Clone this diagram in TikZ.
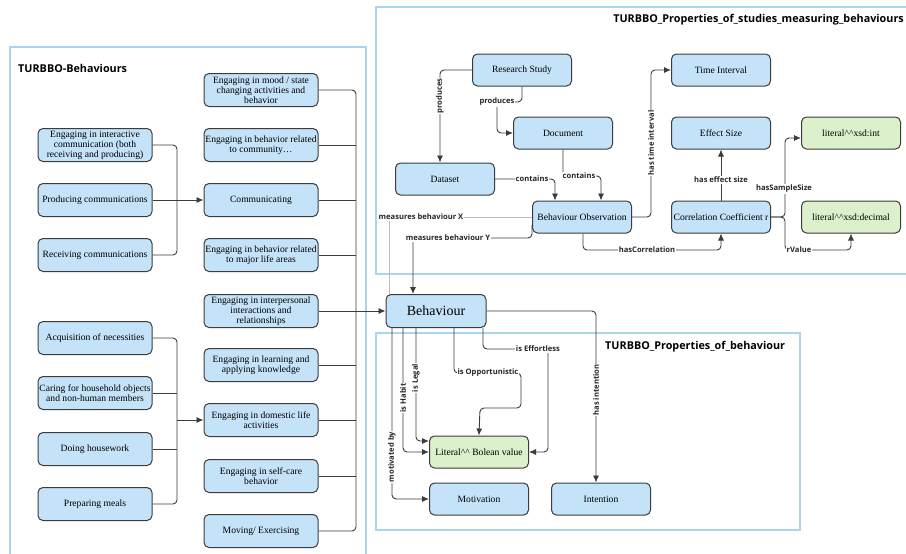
\documentclass[tikz,border=0pt]{standalone}
\usepackage{fontspec}
\setmainfont{Liberation Serif}
\newfontfamily\lblfont{Open Sans}
\usetikzlibrary{arrows.meta}
\definecolor{nodeblue}{HTML}{C4E2F8}
\definecolor{nodegreen}{HTML}{DCF0CB}
\definecolor{panelblue}{HTML}{A9D4F2}
\definecolor{edgec}{HTML}{3C3C3C}
\definecolor{lightln}{HTML}{BDBDBD}
\begin{document}
\begin{tikzpicture}[x=1pt,y=-1pt,
 box/.style={draw=edgec, line width=1pt, rounded corners=5pt, fill=nodeblue, minimum width=99pt, minimum height=32pt, align=center, inner xsep=1pt, inner ysep=1pt, font=\fontsize{9.6}{10}\selectfont},
 wbox/.style={box, minimum width=114pt, minimum height=33pt},
 gbox/.style={box, fill=nodegreen},
 ln/.style={draw=edgec, line width=0.9pt, rounded corners=4pt},
 arr/.style={ln, -{Latex[length=7pt,width=6pt]}},
 thin/.style={draw=lightln, line width=0.7pt},
 lbl/.style={fill=white, inner sep=1pt, font=\lblfont\bfseries\fontsize{7.6}{8}\selectfont, text=black!85},
 panel/.style={draw=panelblue, line width=1.6pt},
 ttl/.style={font=\lblfont\bfseries\fontsize{10.8}{12}\selectfont, anchor=west, inner sep=0pt}
]
\useasboundingbox (0,0) rectangle (906,554);
\fill[white] (0,0) rectangle (906,554);
\clip (0,0) rectangle (906,554);

% panels
\draw[panel] (10,47) rectangle (366,580);
\draw[panel] (376,7) rectangle (930,274);
\draw[panel] (376,333) rectangle (800,530);
\node[ttl] (t1) at (18,68) {TURBBO-Behaviours};
\node[ttl, anchor=east] (t2) at (904,20) {TURBBO\_Properties\_of\_studies\_measuring\_behaviours};
\node[ttl] (t3) at (605,347) {TURBBO\_Properties\_of\_behaviour};

% left column 1
\node[wbox] (ic) at (95,145) {Engaging in interactive\\communication (both\\receiving and producing)};
\node[wbox] (pc) at (95,200) {Producing communications};
\node[wbox] (rc) at (95,255) {Receiving communications};
\node[wbox] (acq) at (95,338) {Acquisition of necessities};
\node[wbox] (care) at (95,393) {Caring for household objects\\and non-human members};
\node[wbox] (house) at (95,449) {Doing housework};
\node[wbox] (meals) at (95,504) {Preparing meals};

% left column 2
\node[wbox] (mood) at (261,90) {Engaging in mood / state\\changing activities and\\behavior};
\node[wbox] (comty) at (261,145) {Engaging in behavior related\\to community…};
\node[wbox] (comm) at (261,200) {Communicating};
\node[wbox] (major) at (261,255) {Engaging in behavior related\\to major life areas};
\node[wbox] (inter) at (261,311) {Engaging in interpersonal\\interactions and\\relationships};
\node[wbox] (learn) at (261,365) {Engaging in learning and\\applying knowledge};
\node[wbox] (dom) at (261,420) {Engaging in domestic life\\activities};
\node[wbox] (self) at (261,476) {Engaging in self-care\\behavior};
\node[wbox] (move) at (261,531) {Moving/ Exercising};

% Behaviour
\node[box, minimum width=100pt, minimum height=33pt, font=\fontsize{14}{16}\selectfont] (beh) at (436,311) {Behaviour};

% top panel nodes
\node[box] (rs) at (522,70) {Research Study};
\node[box] (doc) at (563,133) {Document};
\node[box] (dat) at (445,179) {Dataset};
\node[box] (bo) at (582,217) {Behaviour Observation};
\node[box] (ti) at (721,70) {Time Interval};
\node[box] (es) at (721,133) {Effect Size};
\node[box] (cc) at (721,217) {Correlation Coefficient r};
\node[gbox] (lint) at (851,133) {literal\textasciicircum\textasciicircum xsd:int};
\node[gbox] (ldec) at (851,217) {literal\textasciicircum\textasciicircum xsd:decimal};

% bottom panel nodes
\node[gbox] (lit) at (479,452) {Literal\textasciicircum\textasciicircum\ Bolean value};
\node[box] (mot) at (479,499) {Motivation};
\node[box] (int) at (601,499) {Intention};

% left buses
\coordinate (b1) at (177,200);
\draw[ln] (ic.east) -| (b1);
\draw[ln] (rc.east) -| (b1);
\draw[arr] (pc.east) -- (comm.west);
\coordinate (b2) at (177,420);
\draw[ln] (acq.east) -| (b2);
\draw[ln] (meals.east) -| (b2);
\draw[ln] (care.east) -- (care.east -| b2);
\draw[ln] (house.east) -- (house.east -| b2);
\draw[arr] (b2) -- (dom.west);
\coordinate (b3) at (356,311);
\draw[ln] (mood.east) -| (b3);
\draw[ln] (move.east) -| (b3);
\foreach \n in {comty,comm,major,learn,dom,self}{\draw[ln] (\n.east) -- (\n.east -| b3);}
\draw[arr] (inter.east) -- (beh.west);

% top panel edges
\draw[arr] (rs.west) -| ([xshift=-5pt]dat.north);
\node[lbl, rotate=90] (lp1) at (440,96) {produces};
\draw[arr] (rs.south) |- (497,102) |- (doc.west);
\node[lbl] (lp2) at (497,102) {produces};
\draw[arr] (dat.east) -| ([xshift=-27pt]bo.north);
\node[lbl] (lc1) at (532,179) {contains};
\draw[arr] (doc.south) |- (601,176) -- ([xshift=19pt]bo.north);
\node[lbl] (lc2) at (579,176) {contains};
\draw[arr] (bo.east) -- (651,217) -- (651,70) -- (ti.west);
\node[lbl, rotate=90] (lti) at (651,143) {has time interval};
\draw[arr] (cc.north) -- (es.south);
\node[lbl] (les) at (721,180) {has effect size};
\draw[arr] ([xshift=1pt]bo.south) |- (721,250) -- (cc.south);
\node[lbl] (lhc) at (647,250) {hasCorrelation};
\draw[arr] (cc.east) -- (785,217) |- (lint.west |- 0,138);
\node[lbl] (lss) at (784,189) {hasSampleSize};
\draw[arr] (cc.east) -- (785,217) |- (851,250) -- (ldec.south);
\node[lbl] (lrv) at (799,250) {rValue};
\draw[thin] (bo.west) -- (389,217) -- ([xshift=-47pt]beh.north);
\node[lbl] (lmx) at (421,217) {measures behaviour X};
\draw[arr] ([yshift=-8pt]bo.west) |- (413,238) -- ([xshift=-23pt]beh.north);
\node[lbl] (lmy) at (448,238) {measures behaviour Y};

% bottom panel edges
\draw[arr] ([xshift=-44pt]beh.south) |- (mot.west);
\node[lbl, rotate=90] (lmb) at (392,457) {motivated by};
\draw[arr] ([xshift=-33pt]beh.south) |- (lit.west);
\node[lbl, rotate=90] (lih) at (403,398) {is Habit};
\draw[arr] ([xshift=-20pt]beh.south) |- ([yshift=11pt]lit.west);
\node[lbl, rotate=90] (lil) at (416,378) {is Legal};
\draw[arr] ([xshift=18pt]beh.south) -- (454,373) -- (521,373) -- (521,408) -- (480,408) -- (lit.north);
\node[lbl] (lio) at (488,373) {is Opportunistic};
\draw[arr] ([xshift=47pt]beh.south) |- (548,349) -- (548,452) -- (lit.east);
\node[lbl] (lie) at (538,349) {is Effortless};
\draw[arr] (beh.east) -- (596,311) -- ([xshift=-5pt]int.north);
\node[lbl, rotate=90] (lhi) at (596,390) {has intention};
\end{tikzpicture}
\end{document}
